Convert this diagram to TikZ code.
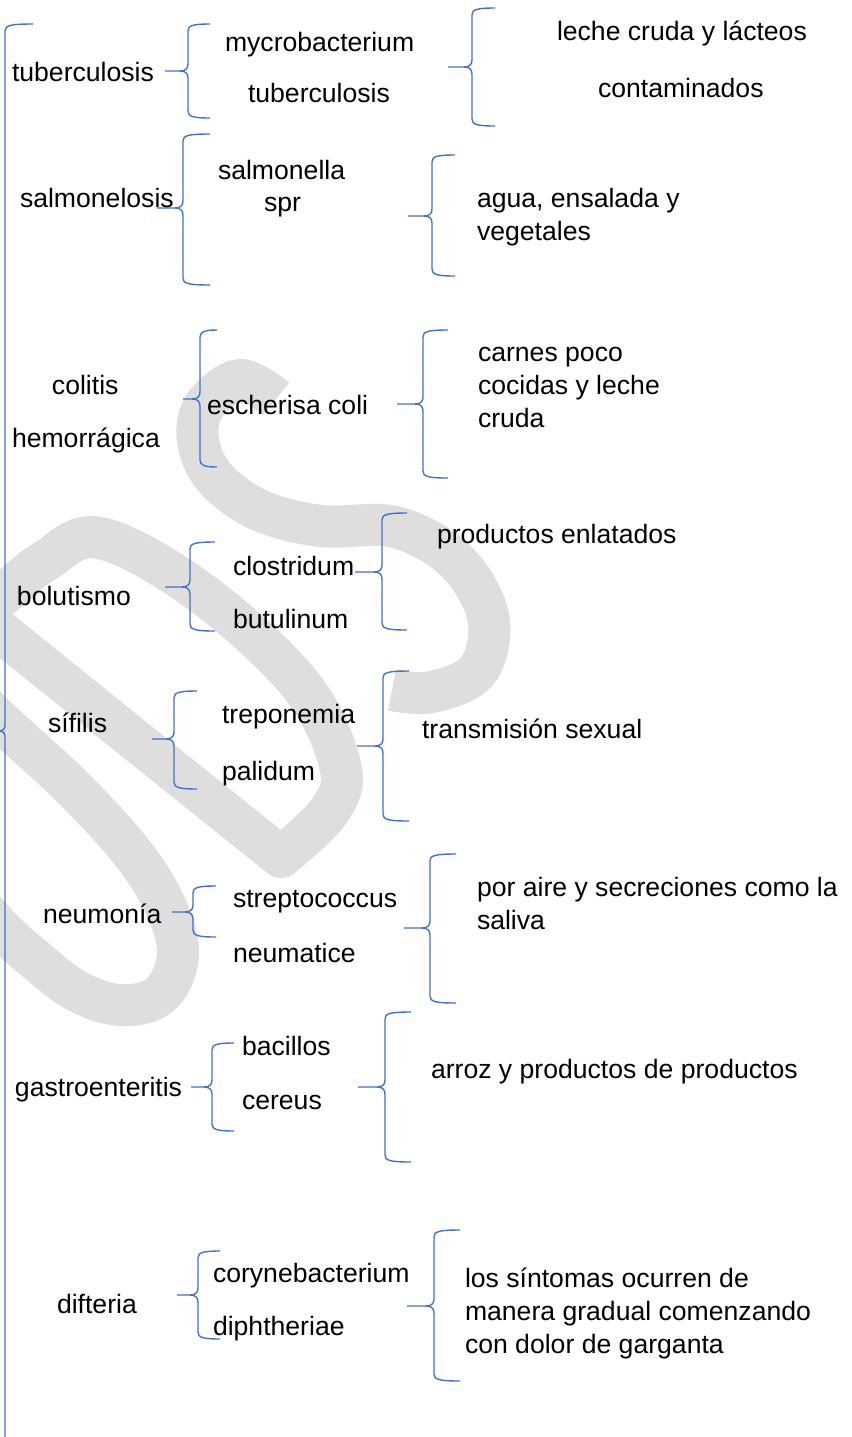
\documentclass[tikz,border=0pt]{standalone}
\usepackage{fontspec}
\setmainfont{Liberation Sans}
\definecolor{braceblue}{RGB}{68,114,196}
\definecolor{wmgray}{RGB}{222,222,222}
\newcommand{\curly}[6]{% X T B C S H
  \draw[brc] (#6,#2) .. controls (#1+5,#2) and (#1,#2+1.5) .. (#1,#2+7) -- (#1,#4-7) .. controls (#1,#4-2) and (#1-3,#4) .. (#1-8,#4) -- (#5,#4);
  \draw[brc] (#1-8,#4) .. controls (#1-3,#4) and (#1,#4+2) .. (#1,#4+7) -- (#1,#3-7) .. controls (#1,#3-1.5) and (#1+5,#3) .. (#6,#3);
}
\begin{document}
\begin{tikzpicture}[x=0.5pt,y=-0.5pt,
  brc/.style={draw=braceblue, line width=0.7pt},
  wm/.style={draw=wmgray, line width=21pt},
  txt/.style={anchor=base west, inner sep=0pt, outer sep=0pt, font=\fontsize{13.3}{16.4}\selectfont, align=left}]
\useasboundingbox (0,0) rectangle (852,1437);
\fill[white] (0,0) rectangle (852,1437);
% watermark
\begin{scope}
\clip (0,0) rectangle (852,1437);
\draw[wm] plot[smooth, tension=0.6] coordinates {(276,399) (240,380) (205,405) (198,440) (215,478) (259,510) (321,526) (395,527) (455,560) (488,616) (478,670) (432,692) (392,690)};
\draw[wm, line join=round] (140,744) -- (0,631) -- plot[smooth, tension=0.6] coordinates {(0,631) (-25,612) (0,597) (45,561) (100,538) (200,592) (300,684) (340,765) (330,810) (281,857)} -- (140,744);
\draw[wm] plot[smooth, tension=0.6] coordinates {(-20,700) (0,721) (70,785) (130,850) (165,905) (178,955) (160,995) (120,1005) (75,990) (30,955) (0,928) (-20,905)};
\end{scope}
% big left brace
\draw[brc] (33,24) .. controls (12,24) and (5,25) .. (5,31) -- (5,725) .. controls (5,729) and (3,731) .. (0,731);
\draw[brc] (0,731) .. controls (3,731) and (5,733) .. (5,737) -- (5,1440);
% braces
\curly{188}{24}{118}{71}{165}{210}
\curly{472}{8}{126}{67}{448}{495}
\curly{183}{134}{285}{208}{157}{210}
\curly{432}{155}{276}{216}{408}{455}
\curly{200}{330}{467}{399}{183}{217}
\curly{423}{330}{478}{404}{397}{448}
\curly{190}{542}{631}{587}{165}{215}
\curly{382}{513}{630}{572}{355}{407}
\curly{174}{691}{789}{739}{152}{197}
\curly{383}{671}{821}{746}{357}{409}
\curly{193}{886}{937}{912}{172}{216}
\curly{430}{854}{1003}{928}{404}{456}
\curly{212}{1043}{1131}{1087}{191}{234}
\curly{385}{1012}{1162}{1087}{358}{411}
\curly{198}{1251}{1339}{1295}{177}{220}
\curly{434}{1230}{1381}{1306}{407}{460}
% texts (multi-line nodes are anchored at the baseline of their last line)
\node[txt] (d1) at (12,81) {tuberculosis};
\node[txt] (a1) at (225,51) {mycrobacterium};
\node[txt] (b1) at (248,102) {tuberculosis};
\node[txt] (s1) at (557,40) {leche cruda y lácteos};
\node[txt] (s1b) at (598,97) {contaminados};
\node[txt] (d2) at (20,207) {salmonelosis};
\node[txt] (a2) at (218,179) {salmonella};
\node[txt] (b2) at (264,211) {spr};
\node[txt] (s2) at (477,240) {agua, ensalada y\\vegetales};
\node[txt] (d3) at (52,394) {colitis};
\node[txt] (d3b) at (12,447) {hemorrágica};
\node[txt] (a3) at (207,414) {escherisa coli};
\node[txt] (s3) at (478,427) {carnes poco\\cocidas y leche\\cruda};
\node[txt] (d4) at (17,605) {bolutismo};
\node[txt] (a4) at (233,575) {clostridum};
\node[txt] (b4) at (233,628) {butulinum};
\node[txt] (s4) at (437,543) {productos enlatados};
\node[txt] (d5) at (48,732) {sífilis};
\node[txt] (a5) at (222,723) {treponemia};
\node[txt] (b5) at (222,780) {palidum};
\node[txt] (s5) at (422,738) {transmisión sexual};
\node[txt] (d6) at (43,923) {neumonía};
\node[txt] (a6) at (233,907) {streptococcus};
\node[txt] (b6) at (233,962) {neumatice};
\node[txt] (s6) at (477,929) {por aire y secreciones como la\\saliva};
\node[txt] (d7) at (15,1096) {gastroenteritis};
\node[txt] (a7) at (242,1055) {bacillos};
\node[txt] (b7) at (242,1109) {cereus};
\node[txt] (s7) at (431,1078) {arroz y productos de productos};
\node[txt] (d8) at (57,1313) {difteria};
\node[txt] (a8) at (213,1282) {corynebacterium};
\node[txt] (b8) at (213,1335) {diphtheriae};
\node[txt] (s8) at (465,1353) {los síntomas ocurren de\\manera gradual comenzando\\con dolor de garganta};
\end{tikzpicture}
\end{document}
